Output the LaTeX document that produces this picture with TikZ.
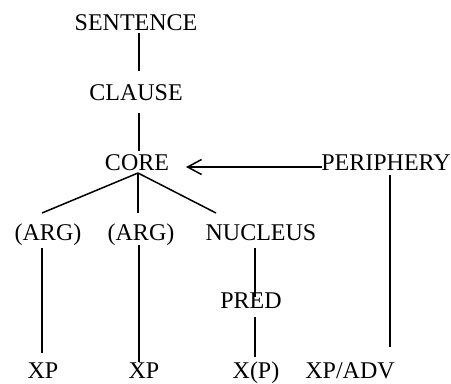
\documentclass[tikz,border=0pt]{standalone}
\usepackage{fontspec}
\setmainfont{Liberation Serif}
\usetikzlibrary{calc,arrows.meta}
\begin{document}
\begin{tikzpicture}[x=1bp,y=-1bp,
  lbl/.style={anchor=base,inner sep=0pt,font=\fontsize{24bp}{28bp}\selectfont},
  edge/.style={line width=1.5bp},
  arr/.style={line width=1.5bp,-{Straight Barb[length=14bp,width=15bp,line width=1.5bp]}}]
\useasboundingbox (0,0) rectangle (451,383);
\node[lbl] (sentence) at (136,30) {SENTENCE};
\node[lbl] (clause) at (136,100) {CLAUSE};
\node[lbl] (core) at (137,170) {CORE};
\node[lbl] (periphery) at (386,170) {PERIPHERY};
\node[lbl] (arg1) at (48,240) {(ARG)};
\node[lbl] (arg2) at (141,240) {(ARG)};
\node[lbl] (nucleus) at (261,240) {NUCLEUS};
\node[lbl] (pred) at (251,308) {PRED};
\node[lbl] (xp1) at (43,378) {XP};
\node[lbl] (xp2) at (144,378) {XP};
\node[lbl] (xp3) at (256,378) {X(P)};
\node[lbl] (xpadv) at (350,378) {XP/ADV};
\draw[edge] ($(sentence.base)+(3,3)$) -- ($(clause.base)+(3,-29)$);
\draw[edge] ($(clause.base)+(3,13)$) -- ($(core.base)+(2,-19)$);
\draw[edge] ($(core.base)+(1,3)$) -- ($(arg1.base)+(-6,-27)$);
\draw[edge] ($(core.base)+(1,3)$) -- ($(arg2.base)+(-3,-27)$);
\draw[edge] ($(core.base)+(1,3)$) -- ($(nucleus.base)+(-45,-27)$);
\draw[arr] ($(periphery.base)+(-64,-3)$) -- ($(core.base)+(49,-3)$);
\draw[edge] ($(periphery.base)+(4,5)$) -- ($(xpadv.base)+(40,-31)$);
\draw[edge] ($(arg1.base)+(-6,8)$) -- ($(xp1.base)+(-1,-25)$);
\draw[edge] ($(arg2.base)+(-2,5)$) -- ($(xp2.base)+(-5,-16)$);
\draw[edge] ($(nucleus.base)+(-6,8)$) -- ($(pred.base)+(4,-11)$);
\draw[edge] ($(pred.base)+(4,9)$) -- ($(xp3.base)+(-1,-21)$);
\end{tikzpicture}
\end{document}
